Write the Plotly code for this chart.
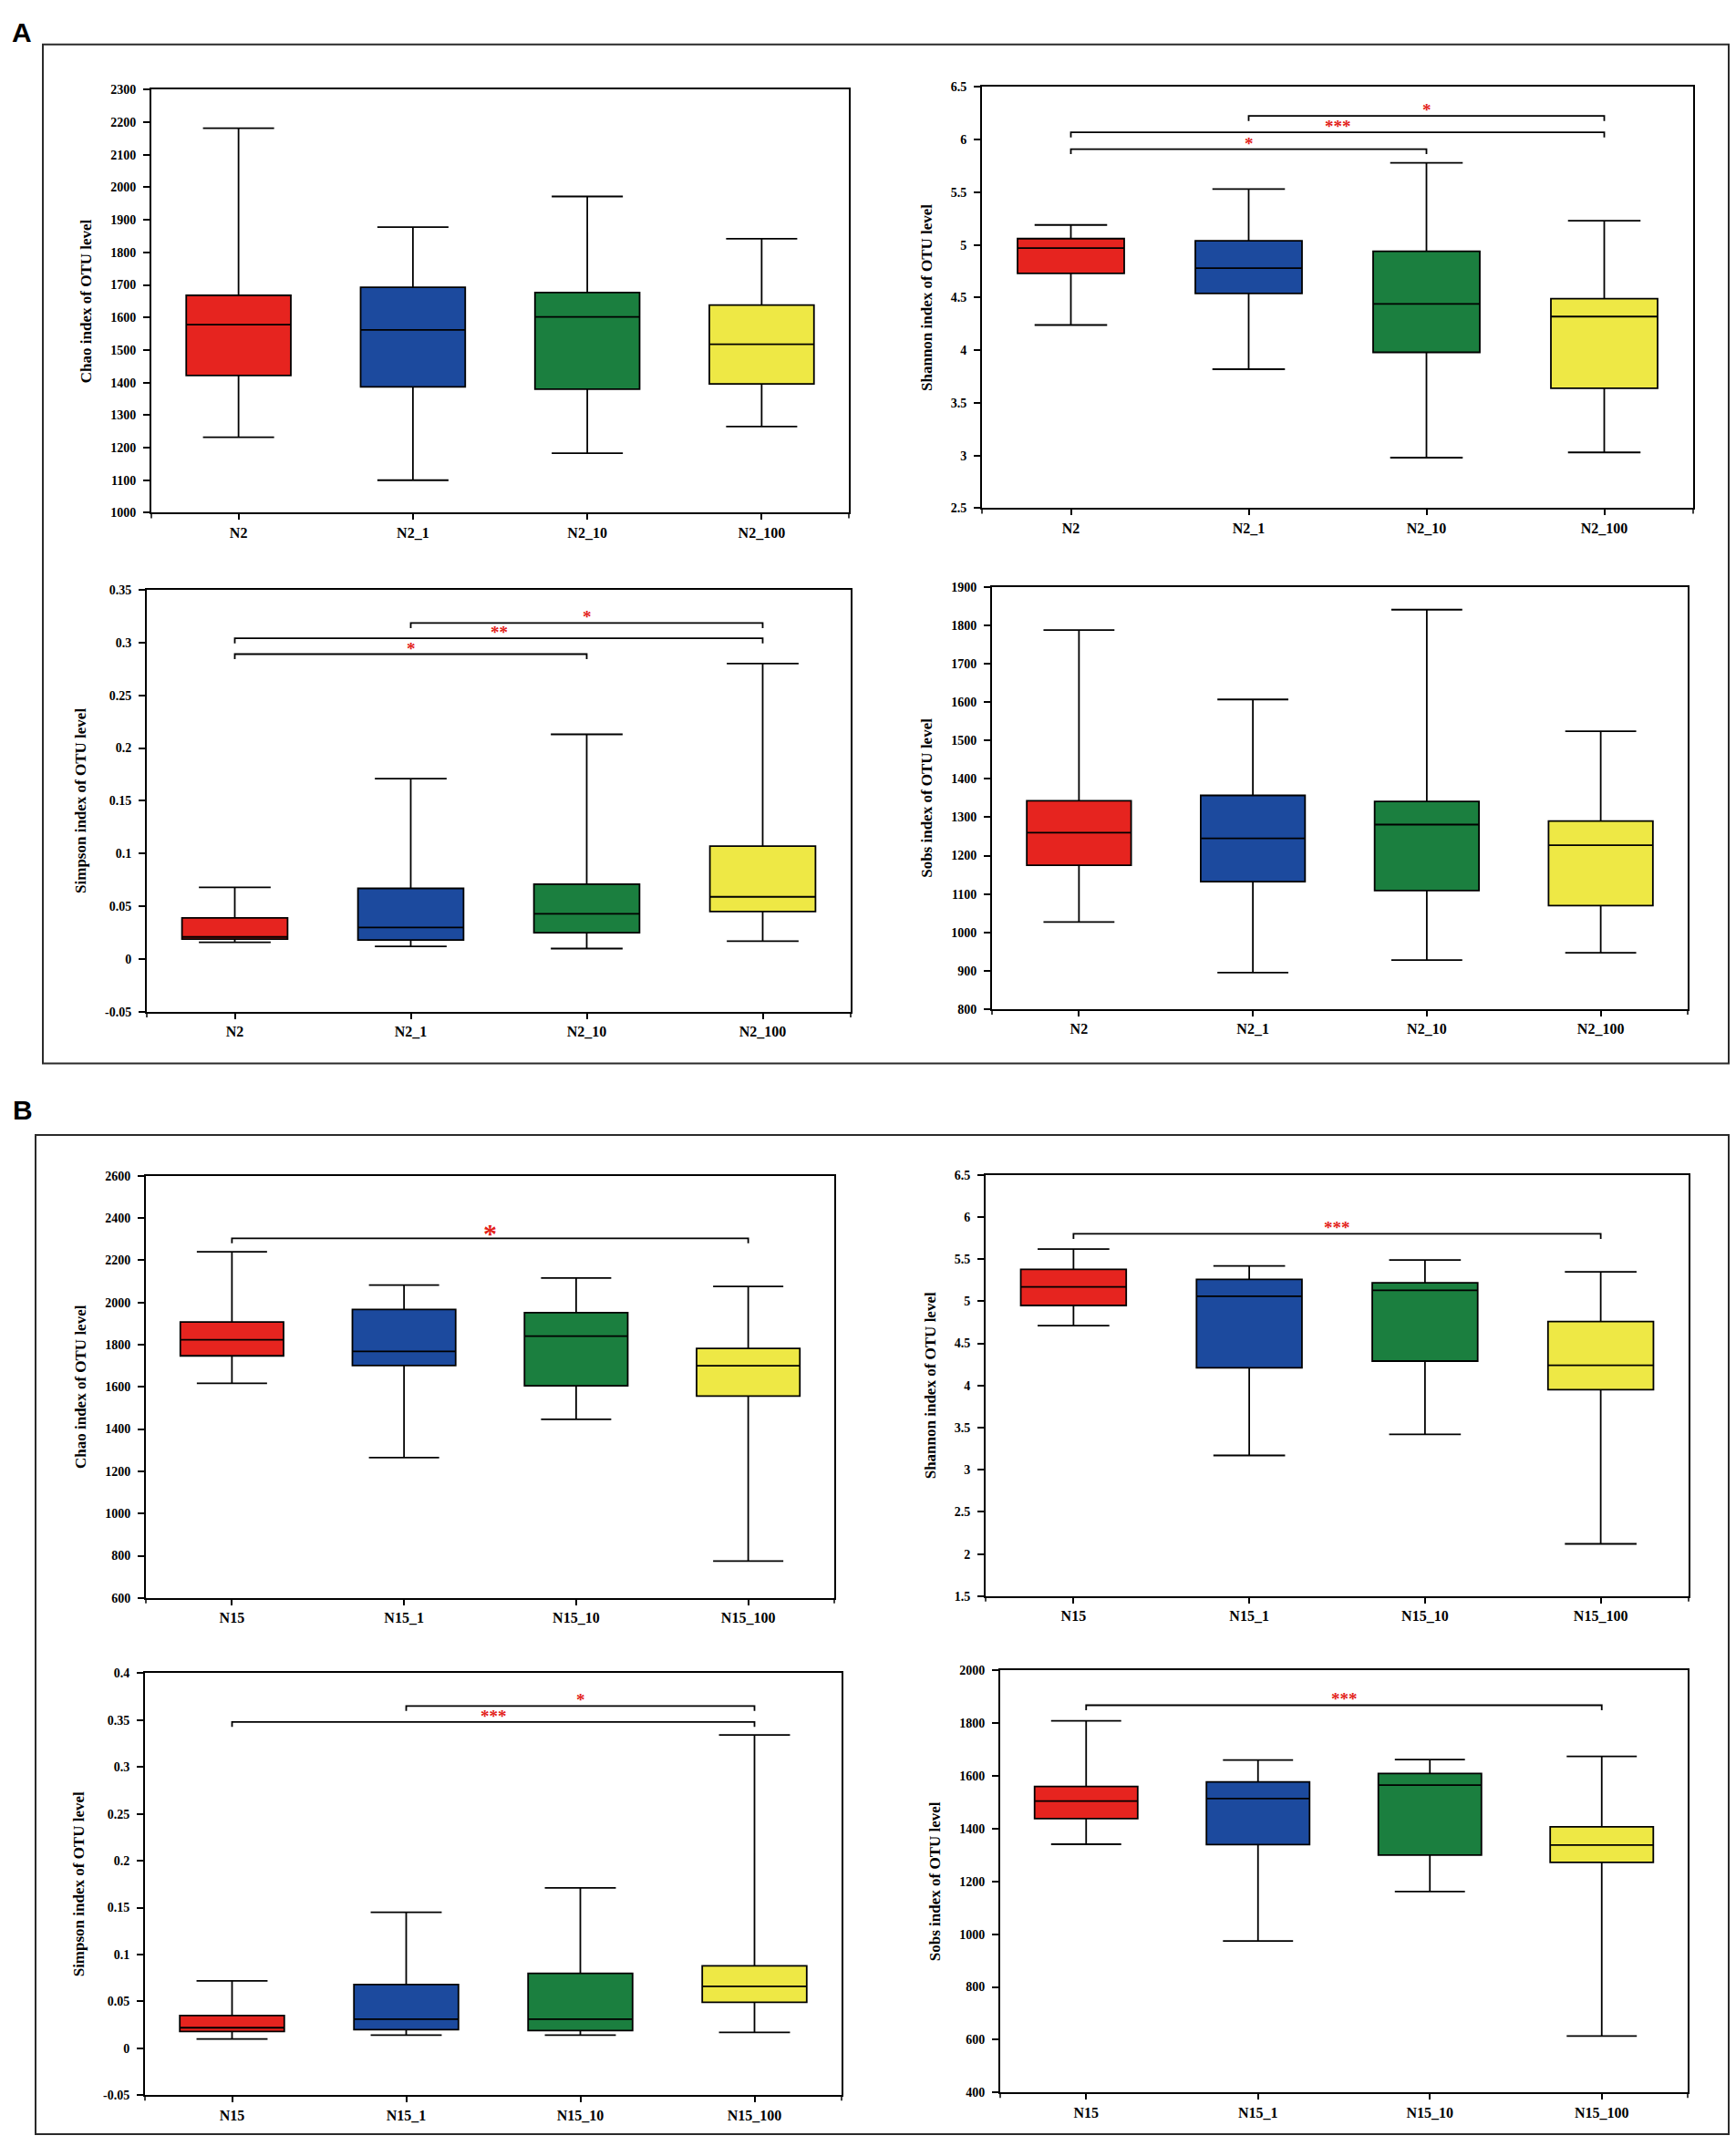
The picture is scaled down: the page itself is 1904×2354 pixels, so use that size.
import plotly.graph_objects as go

# Group names
n2_groups = ["N2", "N2_1", "N2_10", "N2_100"]
n15_groups = ["N15", "N15_1", "N15_10", "N15_100"]

# Colors used by the boxes
colors = ["#E6241F", "#1C4A9E", "#1B7F3F", "#EEE845"]

# Box statistics (one list per statistic, one value per group)
chao_n2 = dict(lower=[1232, 1100, 1183, 1265], q1=[1422, 1387, 1380, 1396],
               median=[1578, 1562, 1602, 1518], q3=[1668, 1693, 1677, 1638],
               upper=[2182, 1878, 1972, 1842])
shannon_n2 = dict(lower=[4.24, 3.82, 2.98, 3.03], q1=[4.73, 4.54, 3.98, 3.64],
                  median=[4.97, 4.78, 4.44, 4.32], q3=[5.06, 5.04, 4.94, 4.49],
                  upper=[5.19, 5.53, 5.78, 5.23])
simpson_n2 = dict(lower=[0.016, 0.012, 0.010, 0.017], q1=[0.019, 0.018, 0.025, 0.045],
                  median=[0.021, 0.030, 0.043, 0.059], q3=[0.039, 0.067, 0.071, 0.107],
                  upper=[0.068, 0.171, 0.213, 0.280])
sobs_n2 = dict(lower=[1027, 895, 928, 947], q1=[1175, 1132, 1109, 1070],
               median=[1260, 1245, 1281, 1227], q3=[1343, 1357, 1341, 1290],
               upper=[1788, 1607, 1841, 1524])

chao_n15 = dict(lower=[1617, 1265, 1446, 775], q1=[1747, 1701, 1605, 1556],
                median=[1823, 1768, 1840, 1700], q3=[1907, 1967, 1952, 1782],
                upper=[2240, 2082, 2116, 2076])
shannon_n15 = dict(lower=[4.71, 3.17, 3.42, 2.12], q1=[4.95, 4.21, 4.29, 3.95],
                   median=[5.17, 5.06, 5.13, 4.24], q3=[5.38, 5.26, 5.22, 4.76],
                   upper=[5.62, 5.42, 5.49, 5.35])
simpson_n15 = dict(lower=[0.010, 0.014, 0.014, 0.017], q1=[0.018, 0.020, 0.019, 0.049],
                   median=[0.022, 0.031, 0.031, 0.066], q3=[0.035, 0.068, 0.080, 0.088],
                   upper=[0.072, 0.145, 0.171, 0.334])
sobs_n15 = dict(lower=[1341, 974, 1162, 614], q1=[1438, 1340, 1300, 1272],
                median=[1505, 1514, 1565, 1338], q3=[1560, 1577, 1609, 1407],
                upper=[1809, 1660, 1662, 1674])

# Significance brackets: (from, to, height, label)
shannon_n2_sig = [("N2", "N2_10", 5.91, "*"), ("N2", "N2_100", 6.07, "***"),
                  ("N2_1", "N2_100", 6.225, "*")]
simpson_n2_sig = [("N2", "N2_10", 0.289, "*"), ("N2", "N2_100", 0.304, "**"),
                  ("N2_1", "N2_100", 0.3185, "*")]
chao_n15_sig = [("N15", "N15_100", 2304, "*")]
shannon_n15_sig = [("N15", "N15_100", 5.80, "***")]
simpson_n15_sig = [("N15", "N15_100", 0.348, "***"), ("N15_1", "N15_100", 0.365, "*")]
sobs_n15_sig = [("N15", "N15_100", 1868, "***")]

# Y axis ticks
chao_n2_ticks = list(range(1000, 2301, 100))
shannon_n2_ticks = [2.5, 3, 3.5, 4, 4.5, 5, 5.5, 6, 6.5]
simpson_n2_ticks = [-0.05, 0, 0.05, 0.1, 0.15, 0.2, 0.25, 0.3, 0.35]
sobs_n2_ticks = list(range(800, 1901, 100))
chao_n15_ticks = list(range(600, 2601, 200))
shannon_n15_ticks = [1.5, 2, 2.5, 3, 3.5, 4, 4.5, 5, 5.5, 6, 6.5]
simpson_n15_ticks = [-0.05, 0, 0.05, 0.1, 0.15, 0.2, 0.25, 0.3, 0.35, 0.4]
sobs_n15_ticks = list(range(400, 2001, 200))

W, H = 1904, 2354
SERIF = "Liberation Serif"

# (stats, groups, title, ticks, sig, pixel box x0, x1, y0, y1, star size)
panels = [
    (chao_n2, n2_groups, "Chao index of OTU level", chao_n2_ticks, [],
     (166, 931, 92, 559), 19),
    (shannon_n2, n2_groups, "Shannon index of OTU level", shannon_n2_ticks, shannon_n2_sig,
     (1077, 1857, 89, 554), 19),
    (simpson_n2, n2_groups, "Simpson index of OTU level", simpson_n2_ticks, simpson_n2_sig,
     (161, 933, 644, 1110), 19),
    (sobs_n2, n2_groups, "Sobs index of OTU level", sobs_n2_ticks, [],
     (1088, 1851, 641, 1107), 19),
    (chao_n15, n15_groups, "Chao index of OTU level", chao_n15_ticks, chao_n15_sig,
     (160, 915, 1291, 1757), 30),
    (shannon_n15, n15_groups, "Shannon index of OTU level", shannon_n15_ticks, shannon_n15_sig,
     (1081, 1852, 1290, 1755), 19),
    (simpson_n15, n15_groups, "Simpson index of OTU level", simpson_n15_ticks, simpson_n15_sig,
     (159, 923, 1840, 2306), 19),
    (sobs_n15, n15_groups, "Sobs index of OTU level", sobs_n15_ticks, sobs_n15_sig,
     (1097, 1851, 1837, 2303), 19),
]

fig = go.Figure()
annotations = []
shapes = []

for i, (stats, groups, title, ticks, sig, box, star_size) in enumerate(panels):
    suffix = "" if i == 0 else str(i + 1)
    xa, ya = "x" + suffix, "y" + suffix
    x0, x1, y0, y1 = box
    lo, hi = ticks[0], ticks[-1]

    for k, (g, col) in enumerate(zip(groups, colors)):
        fig.add_trace(go.Box(
            x=[g],
            q1=[stats["q1"][k]],
            median=[stats["median"][k]],
            q3=[stats["q3"][k]],
            lowerfence=[stats["lower"][k]],
            upperfence=[stats["upper"][k]],
            fillcolor=col,
            line=dict(color="black", width=1.8),
            width=0.6,
            whiskerwidth=0.68,
            boxpoints=False,
            showlegend=False,
            xaxis=xa,
            yaxis=ya,
        ))

    drop = (hi - lo) * 0.012
    for a, b, h, label in sig:
        fig.add_trace(go.Scatter(
            x=[a, a, b, b],
            y=[h - drop, h, h, h - drop],
            mode="lines",
            line=dict(color="black", width=1.8),
            showlegend=False,
            hoverinfo="skip",
            xaxis=xa,
            yaxis=ya,
        ))
        annotations.append(dict(
            x=(groups.index(a) + groups.index(b)) / 2,
            y=h,
            xref=xa,
            yref=ya,
            text=label,
            showarrow=False,
            yanchor="bottom",
            yshift=-6 if star_size < 25 else -13,
            font=dict(family=SERIF, size=star_size, color="#E32119", weight="bold"),
        ))

    fig.layout["xaxis" + suffix] = dict(
        domain=[x0 / W, x1 / W],
        anchor=ya,
        type="category",
        categoryorder="array",
        categoryarray=groups,
        range=[-0.5, 3.5],
        showline=True,
        linecolor="black",
        linewidth=2,
        mirror=True,
        ticks="outside",
        ticklen=6,
        tickwidth=1.5,
        tickcolor="black",
        showgrid=False,
        tickfont=dict(family=SERIF, size=16, color="black", weight="bold"),
    )
    fig.layout["yaxis" + suffix] = dict(
        domain=[1 - y1 / H, 1 - y0 / H],
        anchor=xa,
        range=[lo, hi],
        tickmode="array",
        tickvals=ticks,
        ticktext=[f"{v:g}" for v in ticks],
        showline=True,
        linecolor="black",
        linewidth=2,
        mirror=True,
        ticks="outside",
        ticklen=7,
        tickwidth=1.5,
        tickcolor="black",
        ticklabelstandoff=5,
        showgrid=False,
        zeroline=False,
        tickfont=dict(family=SERIF, size=14, color="black", weight="bold"),
        title=dict(text=title, standoff=16,
                   font=dict(family=SERIF, size=17, color="black", weight="bold")),
    )

    # end ticks at both ends of the x axis
    for xd in (0, 1):
        shapes.append(dict(
            type="line", xref=xa + " domain", yref=ya + " domain",
            x0=xd, x1=xd, y0=0, y1=-6, ysizemode="pixel", yanchor=0,
            line=dict(color="black", width=1.5),
        ))

# outer frames of panel A and B
for fx0, fy0, fx1, fy1 in [(47, 42, 1896, 1167), (39, 1246, 1896, 2349)]:
    shapes.append(dict(
        type="rect", xref="paper", yref="paper",
        x0=fx0 / W, x1=fx1 / W, y0=1 - fy1 / H, y1=1 - fy0 / H,
        line=dict(color="#2a2a2a", width=2),
    ))

for label, lx, ly in [("A", 24, 29), ("B", 25, 1218)]:
    annotations.append(dict(
        x=lx / W, y=1 - ly / H, xref="paper", yref="paper",
        text=label, showarrow=False, xanchor="center", yanchor="middle",
        font=dict(family="Liberation Sans", size=30, color="black", weight="bold"),
    ))

fig.update_layout(
    width=W,
    height=H,
    autosize=False,
    margin=dict(l=0, r=0, t=0, b=0),
    paper_bgcolor="white",
    plot_bgcolor="white",
    boxmode="overlay",
    annotations=annotations,
    shapes=shapes,
)

fig.write_html("out.html", config={"displayModeBar": False},
               post_script="document.body.style.margin = '0px';")
